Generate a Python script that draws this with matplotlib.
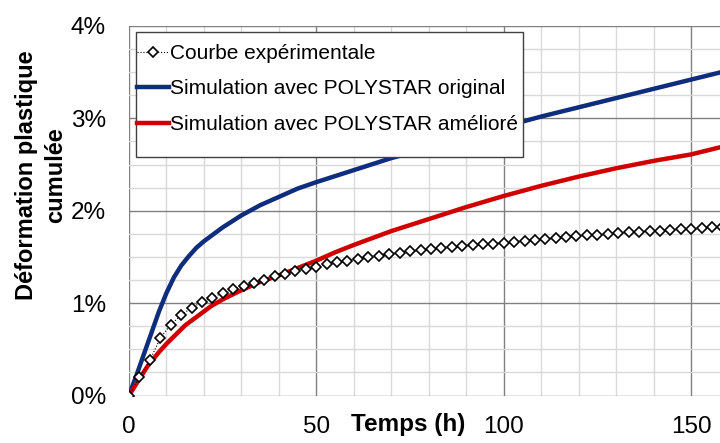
import matplotlib
matplotlib.use("Agg")
import matplotlib.pyplot as plt
from matplotlib.patches import Rectangle
from matplotlib.ticker import MultipleLocator, FuncFormatter

plt.rcParams['font.family'] = ['Liberation Sans', 'DejaVu Sans']

# experimental curve (diamonds), time in h, strain in %
t_exp = [0, 2.8, 5.6, 8.3, 11.1, 13.9, 16.7, 19.4, 22.2, 25.0, 27.8, 30.6, 33.3, 36.1,
         38.9, 41.7, 44.4, 47.2, 50.0, 52.8, 55.6, 58.3, 61.1, 63.9, 66.7, 69.4, 72.2,
         75.0, 77.8, 80.6, 83.3, 86.1, 88.9, 91.7, 94.4, 97.2, 100.0, 102.8, 105.6,
         108.3, 111.1, 113.9, 116.7, 119.4, 122.2, 125.0, 127.8, 130.6, 133.3, 136.1,
         138.9, 141.7, 144.4, 147.2, 150.0, 152.8, 155.6, 158.3]
v_exp = [0, 0.20, 0.38, 0.62, 0.765, 0.87, 0.95, 1.01, 1.06, 1.11, 1.15, 1.18, 1.22, 1.255,
         1.29, 1.32, 1.345, 1.37, 1.395, 1.42, 1.44, 1.46, 1.48, 1.50, 1.515, 1.53, 1.545,
         1.56, 1.57, 1.585, 1.595, 1.605, 1.615, 1.625, 1.635, 1.645, 1.655, 1.665, 1.675,
         1.685, 1.695, 1.705, 1.715, 1.725, 1.733, 1.741, 1.749, 1.757, 1.765, 1.772,
         1.779, 1.786, 1.793, 1.80, 1.807, 1.814, 1.82, 1.826]

# simulation, original POLYSTAR
t_orig = [0, 2, 4, 6, 8, 10, 12, 14, 16, 18, 20, 25, 30, 35, 40, 45, 50, 60, 70, 80,
          90, 100, 110, 120, 130, 140, 150, 158]
v_orig = [0, 0.22, 0.45, 0.68, 0.91, 1.11, 1.28, 1.41, 1.51, 1.60, 1.67, 1.82, 1.95, 2.06,
          2.15, 2.24, 2.31, 2.44, 2.57, 2.68, 2.80, 2.91, 3.02, 3.12, 3.22, 3.32, 3.42, 3.50]

# simulation, improved POLYSTAR
t_amel = [0, 2, 5, 8, 10, 12, 15, 18, 20, 22, 25, 30, 35, 40, 45, 50, 55, 60, 70, 80,
          90, 100, 110, 120, 130, 140, 150, 158]
v_amel = [0, 0.13, 0.32, 0.47, 0.56, 0.64, 0.76, 0.85, 0.91, 0.97, 1.04, 1.14, 1.23, 1.30,
          1.38, 1.46, 1.55, 1.63, 1.78, 1.91, 2.04, 2.16, 2.27, 2.37, 2.46, 2.54, 2.61, 2.69]

labels = ["Courbe expérimentale",
          "Simulation avec POLYSTAR original",
          "Simulation avec POLYSTAR amélioré"]

fig = plt.figure(figsize=(7.2, 4.43), dpi=100)
ax = fig.add_axes([129/720, 1-395.5/443, 1-129/720, (395.5-26)/443])

l1, = ax.plot(t_exp, v_exp, color='black', ls=':', lw=0.8, marker='D', ms=5.3,
              mfc='white', mec='black', mew=1.2, zorder=4)
l2, = ax.plot(t_orig, v_orig, color='#0f2d7d', lw=3.2, zorder=3)
l3, = ax.plot(t_amel, v_amel, color='#d00000', lw=3.2, zorder=3)

ax.set_xlim(0, 157.7)
ax.set_ylim(0, 4)
ax.xaxis.set_major_locator(MultipleLocator(50))
ax.xaxis.set_minor_locator(MultipleLocator(10))
ax.yaxis.set_major_locator(MultipleLocator(1))
ax.yaxis.set_minor_locator(MultipleLocator(0.25))
ax.yaxis.set_major_formatter(FuncFormatter(lambda v, p: '%d%%' % v))

ax.grid(which='minor', color='#d9d9d9', lw=1)
ax.grid(which='major', color='#808080', lw=1)
ax.set_axisbelow(True)
for s in ax.spines.values():
    s.set_visible(False)
ax.tick_params(which='both', length=0)
ax.tick_params(axis='y', labelsize=17.5, pad=16.5)
ax.tick_params(axis='x', labelsize=17.5, pad=15)

# edge lines are light in the original
ax.yaxis.get_major_ticks()[0].gridline.set_color('#d0d0d0')
ax.yaxis.get_major_ticks()[-1].gridline.set_color('#c0c0c0')
ax.xaxis.get_major_ticks()[0].gridline.set_color('#d0d0d0')

fig.text(408/720, 1-425/443, "Temps (h)", fontsize=17.5, fontweight='bold',
         ha='center', va='center')
fig.text(41/720, 1-175/443, "Déformation plastique\ncumulée", fontsize=17,
         fontweight='bold', rotation=90, ha='center', va='center',
         multialignment='center', linespacing=1.35)

# legend box drawn apart so the padding can match the original
fig.add_artist(Rectangle((136/720, 1-157/443), (523-136)/720, 125/443,
                         facecolor='white', edgecolor='#404040', lw=1, zorder=4))
leg = fig.legend([l1, l2, l3], labels, loc='upper left',
                 bbox_to_anchor=(137/720, 1-44/443), borderaxespad=0, borderpad=0,
                 fontsize=15, frameon=False, handlelength=1.55, handletextpad=0.05,
                 labelspacing=0.79)
leg.set_zorder(5)

fig.savefig("out.png", dpi=100)
